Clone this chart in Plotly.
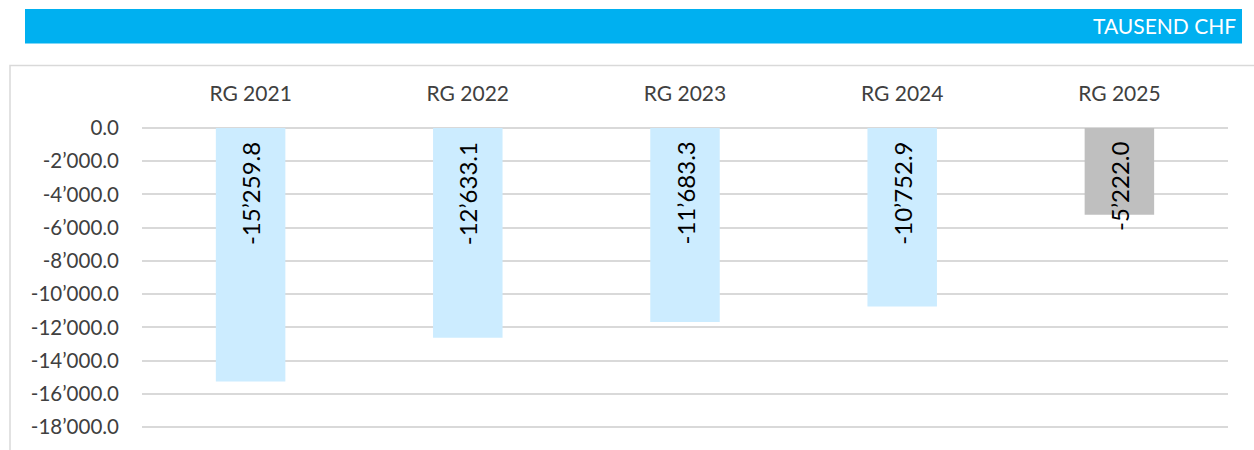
import plotly.graph_objects as go

categories = ["RG 2021", "RG 2022", "RG 2023", "RG 2024", "RG 2025"]
values = [-15259.8, -12633.1, -11683.3, -10752.9, -5222.0]
bar_colors = ["#CCECFF", "#CCECFF", "#CCECFF", "#CCECFF", "#BFBFBF"]
tick_vals = [0, -2000, -4000, -6000, -8000, -10000, -12000, -14000, -16000, -18000]
unit_label = "TAUSEND CHF"


def fmt(v):
    return f"{v:,.1f}".replace(",", "\u2019")


FONT = "Lato"
W, H = 1254, 450
L, R, T, B = 142, 26, 126, 21
PW, PH = W - L - R, H - T - B


def px_x(px):
    return (px - L) / PW


def px_y(py):
    return (H - B - py) / PH


fig = go.Figure()
fig.add_trace(go.Bar(
    x=categories, y=values, marker=dict(color=bar_colors, line=dict(width=0)),
    width=0.32, hoverinfo="skip", showlegend=False,
))

for c, v in zip(categories, values):
    fig.add_annotation(
        x=c, y=0, xref="x", yref="y", text=fmt(v), textangle=-90,
        showarrow=False, yanchor="top", xanchor="center", yshift=-12,
        font=dict(family=FONT, size=24, color="#000000"),
    )

# header bar
fig.add_shape(type="rect", xref="paper", yref="paper",
              x0=px_x(25), x1=px_x(1242), y0=px_y(43.5), y1=px_y(9),
              fillcolor="#00B0F0", line=dict(width=0), layer="below")
fig.add_annotation(xref="paper", yref="paper", x=px_x(1238), y=px_y(25),
                   xanchor="right", yanchor="middle", showarrow=False,
                   text=unit_label, font=dict(family=FONT, size=21, color="#FFFFFF"))
# chart border
fig.add_shape(type="rect", xref="paper", yref="paper",
              x0=px_x(10), x1=px_x(1270), y0=px_y(470), y1=px_y(65.5),
              fillcolor="rgba(0,0,0,0)", line=dict(color="#D9D9D9", width=1.5),
              layer="below")

fig.update_layout(
    width=W, height=H,
    margin=dict(l=L, r=R, t=T, b=B, pad=0),
    paper_bgcolor="#FFFFFF", plot_bgcolor="#FFFFFF",
    font=dict(family=FONT, color="#404040", size=20),
    bargap=0.68,
)
fig.update_xaxes(side="top", showgrid=False, showline=False, ticks="",
                 zeroline=False, ticklabelstandoff=20,
                 tickfont=dict(family=FONT, size=21, color="#404040"))
fig.update_yaxes(range=[-18120, 120], tickvals=tick_vals,
                 ticktext=[fmt(v) for v in tick_vals],
                 showgrid=True, gridcolor="#D9D9D9", gridwidth=1.5,
                 zeroline=False, showline=False, ticks="",
                 ticklabelstandoff=22,
                 tickfont=dict(family=FONT, size=20.5, color="#404040"))

fig.write_html(
    "out.html",
    config={"displayModeBar": False},
    post_script="document.body.style.margin='0';document.body.style.overflow='hidden';",
)
